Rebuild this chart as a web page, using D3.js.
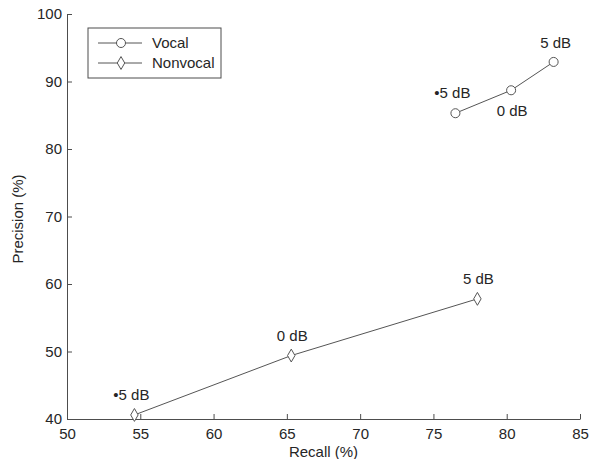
<!DOCTYPE html>
<html>
<head>
<meta charset="utf-8">
<script src="https://cdn.jsdelivr.net/npm/d3@7"></script>
<style>
  body { margin: 0; background: #fff; }
  svg text { font-family: "Liberation Sans", Arial, sans-serif; fill: #262626; }
</style>
</head>
<body>
<div id="chart"></div>
<script>
// dados
const snrLabels = ["•5 dB", "0 dB", "5 dB"];
const vocalRecall = [76.5, 80.3, 83.2];
const vocalPrecision = [85.3, 88.7, 92.9];
const nonvocalRecall = [54.6, 65.3, 78.0];
const nonvocalPrecision = [40.6, 49.4, 57.8];
const xTicks = [50, 55, 60, 65, 70, 75, 80, 85];
const yTicks = [40, 50, 60, 70, 80, 90, 100];

const W = 590, H = 459;
const margin = { top: 14, right: 10, bottom: 40, left: 67 };
const width = 580 - margin.left;
const height = 419 - margin.top;
const fs = "15px";

const svg = d3.select("#chart").append("svg")
    .attr("width", W).attr("height", H);
const g = svg.append("g")
    .attr("transform", `translate(${margin.left},${margin.top})`);

const x = d3.scaleLinear().domain([50, 85]).range([0, width]);
const y = d3.scaleLinear().domain([40, 100]).range([height, 0]);

const axisColor = "#4d4d4d";

// Eixo X (ticks para dentro)
const gx = g.append("g")
    .attr("transform", `translate(0,${height})`)
    .call(d3.axisBottom(x).tickValues(xTicks).tickSize(-5).tickPadding(10).tickSizeOuter(0));
// Eixo Y
const gy = g.append("g")
    .call(d3.axisLeft(y).tickValues(yTicks).tickSize(-5).tickPadding(5).tickSizeOuter(0));

[gx, gy].forEach(a => {
    a.select(".domain").attr("stroke", axisColor);
    a.selectAll(".tick line").attr("stroke", axisColor);
    a.selectAll(".tick text").style("font-size", fs).attr("fill", "#262626");
});
gx.selectAll(".tick text").attr("dy", "0.71em").attr("y", 9);

// Legendas dos eixos
g.append("text")
    .attr("x", width / 2)
    .attr("y", 457 - margin.top)
    .attr("text-anchor", "middle")
    .style("font-size", fs)
    .text("Recall (%)");

g.append("text")
    .attr("transform", "rotate(-90)")
    .attr("x", -(219 - margin.top))
    .attr("y", 23 - margin.left)
    .attr("text-anchor", "middle")
    .style("font-size", fs)
    .text("Precision (%)");

const lineColor = "#555";
const series = [
    { name: "Vocal", xs: vocalRecall, ys: vocalPrecision, shape: d3.symbolCircle, size: 64 },
    { name: "Nonvocal", xs: nonvocalRecall, ys: nonvocalPrecision, shape: d3.symbolDiamond, size: 48 }
];

const line = d3.line().x(d => x(d[0])).y(d => y(d[1]));

series.forEach(s => {
    const pts = s.xs.map((v, i) => [v, s.ys[i]]);
    g.append("path")
        .attr("d", line(pts))
        .attr("fill", "none")
        .attr("stroke", lineColor)
        .attr("stroke-width", 1);
    g.selectAll(null)
        .data(pts)
        .enter()
        .append("path")
        .attr("transform", d => `translate(${x(d[0])},${y(d[1])})`)
        .attr("d", d3.symbol().type(s.shape).size(s.size))
        .attr("fill", "#fff")
        .attr("stroke", lineColor)
        .attr("stroke-width", 1);
});

// Rótulos de SNR (deslocamentos em pixels)
function addLabels(xs, ys, offsets) {
    g.selectAll(null)
        .data(xs.map((v, i) => ({ x: v, y: ys[i], t: snrLabels[i], o: offsets[i] })))
        .enter()
        .append("text")
        .attr("x", d => x(d.x) + d.o[0])
        .attr("y", d => y(d.y) + d.o[1])
        .attr("text-anchor", "middle")
        .style("font-size", fs)
        .text(d => d.t);
}
addLabels(vocalRecall, vocalPrecision, [[-3, -15], [1, 26], [2, -14]]);
addLabels(nonvocalRecall, nonvocalPrecision, [[-3, -15], [1, -15], [1, -15]]);

// Legenda
const legend = svg.append("g").attr("transform", "translate(88,28)");
legend.append("rect")
    .attr("width", 133).attr("height", 50)
    .attr("fill", "#fff").attr("stroke", axisColor);
series.forEach((s, i) => {
    const ly = 15 + i * 20;
    legend.append("line")
        .attr("x1", 10).attr("x2", 54).attr("y1", ly).attr("y2", ly)
        .attr("stroke", lineColor);
    legend.append("path")
        .attr("transform", `translate(33,${ly})`)
        .attr("d", d3.symbol().type(s.shape).size(s.size))
        .attr("fill", "#fff").attr("stroke", lineColor);
    legend.append("text")
        .attr("x", 64).attr("y", ly + 5)
        .style("font-size", fs)
        .text(s.name);
});
</script>
</body>
</html>
